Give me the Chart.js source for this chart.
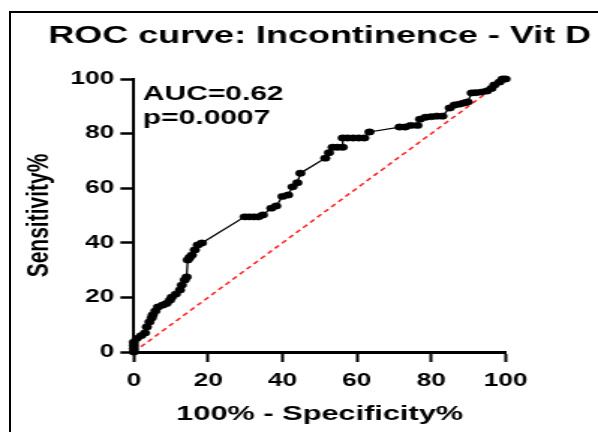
<!DOCTYPE html>
<html>
<head>
<meta charset="utf-8">
<script src="https://cdn.jsdelivr.net/npm/chart.js@4"></script>
<style>
  html, body { margin: 0; padding: 0; background: #fff; overflow: hidden; }
  #page { position: relative; width: 598px; height: 432px; overflow: hidden; }
  #frame {
    position: absolute; left: 9px; top: 11px; width: 620px; height: 450px;
    border-left: 2px solid #000; border-top: 2px solid #000;
  }
  #wrap {
    position: absolute; left: 0; top: 0; width: 399px; height: 432px;
    transform: scaleX(1.4987); transform-origin: 0 0;
  }
</style>
</head>
<body>
<div id="page">
  <div id="frame"></div>
  <div id="wrap"><canvas id="roc" width="399" height="432"></canvas></div>
</div>
<script>
const chartTitle = "ROC curve: Incontinence - Vit D";
const xTitle = "100% - Specificity%";
const yTitle = "Sensitivity%";
const aucLines = ["AUC=0.62", "p=0.0007"];
const tickValues = [0, 20, 40, 60, 80, 100];

// 100% - specificity (x) and sensitivity (y)
const fprValues = [
  0, 0, 0, 0, 0.8, 2, 3, 3.5, 4.2, 4.8, 5.1, 5.8, 6.5, 7.8, 8.8, 9.7, 10.2, 11.3, 12.4, 12.9, 13.7, 14.2, 14.5, 15, 15.6, 16.4, 17.2, 18.3,
  29.8, 31, 32.3, 33.5, 34.7, 37, 38.3, 40, 41.5, 42.7, 44, 44.8,
  51.5, 52.5, 53.5, 54.8, 56.2, 56.2, 57.5, 59, 60.5, 62, 63.4,
  71.5, 73, 74.5, 76.3, 77, 78.5, 80, 81.5, 83, 85, 86.3, 87.6, 88.8, 89.8, 90.9, 92, 93.5, 95, 96.2, 97, 98.4, 99.2, 100
];
const tprValues = [
  0, 1.2, 2.4, 3.6, 5, 6, 7, 9.2, 11, 12.5, 13.6, 15, 16.5, 17.2, 17.8, 19, 20.1, 21.2, 22.7, 24.5, 26.4, 27.5, 33.7, 34.6, 35.5, 37.4, 39.2, 39.9,
  49.5, 49.5, 49.5, 49.5, 50.2, 52.7, 53.5, 57, 57.5, 60.5, 62, 65.5,
  71, 73, 75, 75, 75, 78.4, 78.4, 78.4, 78.4, 78.4, 80.6,
  82.4, 82.4, 83, 83, 85.3, 86, 86.2, 86.4, 86.4, 89.4, 90.5, 90.8, 91.2, 91.6, 94.9, 95, 95.2, 95.6, 96.5, 97.8, 98.9, 100, 100
];
const diagonalX = [0, 100];
const diagonalY = [0, 100];

const FONT = "'Liberation Sans', Arial, sans-serif";

// title and AUC note, drawn without the width squeeze the title box applies
const textNotes = {
  id: "textNotes",
  afterDraw(chart) {
    const { ctx, chartArea } = chart;
    ctx.save();
    ctx.fillStyle = "#000";
    ctx.font = `bold 24px ${FONT}`;
    ctx.textAlign = "center";
    ctx.textBaseline = "alphabetic";
    ctx.fillText(chartTitle, (chartArea.left + chartArea.right) / 2, 43);
    ctx.font = `bold 20px ${FONT}`;
    ctx.textAlign = "left";
    ctx.fillText(aucLines[0], chartArea.left + 6, chartArea.top + 21);
    ctx.fillText(aucLines[1], chartArea.left + 6, chartArea.top + 45);
    ctx.restore();
  },
};

new Chart(document.getElementById("roc"), {
  type: "scatter",
  data: {
    datasets: [
      {
        data: fprValues.map((x, i) => ({ x, y: tprValues[i] })),
        showLine: true,
        borderColor: "#000",
        borderWidth: 1.3,
        pointRadius: 3.2,
        pointBorderWidth: 0.5,
        pointBackgroundColor: "#000",
        pointBorderColor: "#000",
        clip: false,
        order: 0,
      },
      {
        data: diagonalX.map((x, i) => ({ x, y: diagonalY[i] })),
        showLine: true,
        borderColor: "#ff2020",
        borderWidth: 1.5,
        borderDash: [4, 3],
        pointRadius: 0,
        clip: false,
        order: 1,
      },
    ],
  },
  options: {
    responsive: false,
    animation: false,
    layout: { padding: { left: 6, right: 61.7, top: 79, bottom: 0 } },
    plugins: {
      legend: { display: false },
      tooltip: { enabled: false },
      title: { display: false },
    },
    scales: {
      x: {
        type: "linear",
        min: 0,
        max: 100,
        afterBuildTicks: (s) => { s.ticks = tickValues.map((v) => ({ value: v })); },
        afterFit: (s) => { s.height = 80; },
        border: { color: "#000", width: 3 },
        grid: { drawOnChartArea: false, drawTicks: true, tickLength: 10, tickWidth: 2, tickColor: "#000" },
        ticks: { color: "#000", padding: 9, font: { family: FONT, size: 17.5, weight: "bold" } },
        title: {
          display: true,
          text: xTitle,
          color: "#000",
          font: { family: FONT, size: 20.5, weight: "bold" },
          padding: { top: 0, bottom: 5 },
        },
      },
      y: {
        type: "linear",
        min: 0,
        max: 100,
        afterBuildTicks: (s) => { s.ticks = tickValues.map((v) => ({ value: v })); },
        afterFit: (s) => { s.width = 83.3; },
        border: { color: "#000", width: 2 },
        grid: { drawOnChartArea: false, drawTicks: true, tickLength: 9, tickWidth: 2.5, tickColor: "#000" },
        ticks: { color: "#000", padding: 4, font: { family: FONT, size: 17.5, weight: "bold" } },
        title: {
          display: true,
          text: yTitle,
          color: "#000",
          font: { family: FONT, size: 21, weight: "bold" },
          padding: { top: 8, bottom: 0 },
        },
      },
    },
  },
  plugins: [textNotes],
});
</script>
</body>
</html>
